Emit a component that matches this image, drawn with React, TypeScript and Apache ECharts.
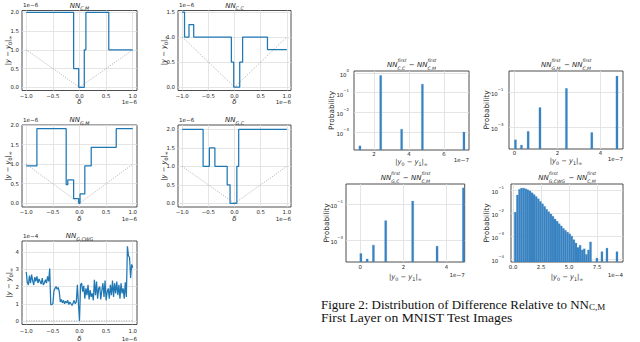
import { useEffect, useRef } from 'react';
import * as echarts from 'echarts';

// ---------------- data ----------------
// Left column: |y - y0|_inf (x1e-6, last panel x1e-4) against delta (x1e-6)
const deltaCM = [-1, -0.11, -0.11, -0.015, -0.015, 0.09, 0.09, 0.12, 0.12, 0.55, 0.55, 1];
const distCM = [2, 2, 0.5, 0.5, 0, 0, 1, 1, 2, 2, 1, 1];

const deltaCC = [-1, -0.955, -0.955, -0.87, -0.87, -0.78, -0.78, -0.06, -0.06, -0.015, -0.015, 0.1, 0.1, 0.155, 0.155, 0.63, 0.63, 1];
const distCC = [1.5, 1.5, 1, 1, 1.25, 1.25, 1, 1, 0.5, 0.5, 0, 0, 0.5, 0.5, 1, 1, 0.75, 0.75];

const deltaGM = [-1, -0.8, -0.8, -0.25, -0.25, -0.22, -0.22, -0.11, -0.11, -0.015, -0.015, 0.01, 0.01, 0.1, 0.1, 0.22, 0.22, 0.69, 0.69, 1];
const distGM = [0.954, 0.954, 1.907, 1.907, 0.477, 0.477, 0.596, 0.596, 0.119, 0.119, 0, 0, 0.238, 0.238, 0.954, 0.954, 1.43, 1.43, 1.907, 1.907];

const deltaGC = [-1, -0.6, -0.6, -0.48, -0.48, -0.375, -0.375, -0.14, -0.14, -0.085, -0.085, 0.045, 0.045, 0.08, 0.08, 1];
const distGC = [2, 2, 1, 1, 1.5, 1.5, 1, 1, 0.5, 0.5, 0, 0, 1, 1, 2, 2];

const deltaCWG = [
  -1, -0.98, -0.96, -0.94, -0.92, -0.9, -0.88, -0.86, -0.84, -0.82, -0.8, -0.78, -0.76, -0.74, -0.72, -0.7,
  -0.68, -0.66, -0.64, -0.62, -0.6, -0.58, -0.56, -0.54, -0.52, -0.5, -0.48, -0.46, -0.44, -0.42, -0.4,
  -0.38, -0.36, -0.34, -0.32, -0.3, -0.28, -0.26, -0.24, -0.22, -0.2, -0.18, -0.16, -0.14, -0.12, -0.1,
  -0.08, -0.06, -0.04, -0.02, 0, 0.02, 0.04, 0.06, 0.08, 0.1, 0.12, 0.14, 0.16, 0.18, 0.2, 0.22, 0.24,
  0.26, 0.28, 0.3, 0.32, 0.34, 0.36, 0.38, 0.4, 0.42, 0.44, 0.46, 0.48, 0.5, 0.52, 0.54, 0.56, 0.58, 0.6,
  0.62, 0.64, 0.66, 0.68, 0.7, 0.72, 0.74, 0.76, 0.78, 0.8, 0.82, 0.84, 0.86, 0.88, 0.9, 0.92, 0.94, 0.96,
  0.98, 1,
];
const distCWG = [
  2.85, 2.25, 2.1, 2.65, 2.2, 2.7, 2.35, 2.1, 2.55, 2.3, 2.6, 2.2, 2.45, 2.3, 2.15, 2.5,
  2.1, 2.2, 2.4, 2.2, 2.6, 2.3, 3.05, 0.95, 0.95, 1.0, 1.75, 1.9, 2.0, 1.85, 1.95,
  1.7, 1.1, 1.25, 1.05, 1.2, 1.0, 1.15, 1.05, 1.2, 0.95, 1.1, 1.0, 0.9, 1.05, 1.2,
  1.0, 1.1, 2.1, 1.0, 0.0, 2.1, 2.2, 1.7, 2.05, 1.3, 1.9, 1.5, 2.1, 1.25, 1.8, 1.4, 1.6,
  1.2, 2.4, 1.5, 2.3, 1.3, 1.9, 2.0, 1.25, 1.8, 2.2, 1.4, 2.35, 1.2, 1.7, 1.9, 1.3, 2.1, 1.5,
  2.35, 1.4, 2.2, 1.6, 2.3, 1.5, 2.1, 1.3, 2.2, 1.6, 1.9, 1.3, 2.25, 1.4, 4.35, 3.8, 3.7, 2.5,
  3.3, 3.1,
];

// reference |delta| (dotted)
const refDelta = [-1, 0, 1];
const refDist = [1, 0, 1];
const refDistCWG = [0.01, 0, 0.01];

// Right column: probability histograms of |y0 - y1|_inf
const diffCC = [1.19, 2.38, 3.58, 4.77, 7.15]; // x1e-7
const probCC = [2e-4, 0.75, 1.4e-3, 0.27, 1.0e-3];
const diffGM = [0.05, 0.33, 0.64, 1.19, 2.42, 3.6, 4.77]; // x1e-7
const probGM = [2e-4, 1e-4, 6e-4, 1.35e-2, 0.165, 5.2e-4, 0.82];
const diffGC = [0.03, 0.32, 0.61, 1.18, 2.43, 3.56, 4.78]; // x1e-7
const probGC = [1.9e-4, 9.5e-5, 5.5e-4, 1.23e-2, 0.148, 4.8e-4, 0.79];
const diffCWG = [
  0.2, 0.39, 0.58, 0.76, 0.95, 1.14, 1.32, 1.51, 1.7, 1.88, 2.07, 2.26, 2.44, 2.63, 2.82, 3.0, 3.19,
  3.38, 3.56, 3.75, 3.94, 4.12, 4.31, 4.5, 4.68, 4.87, 5.06, 5.24, 5.43, 5.62, 5.8, 5.99, 6.18, 6.36,
  6.55, 6.74, 6.92, 7.49, 7.94, 8.39, 9.28,
]; // x1e-4
const probCWG = [
  0.0112, 0.063, 0.112, 0.126, 0.126, 0.117, 0.107, 0.095, 0.079, 0.066, 0.054, 0.043, 0.033, 0.026,
  0.02, 0.015, 0.0117, 0.0093, 0.0074, 0.0056, 0.0045, 0.0035, 0.0028, 0.0022, 0.0018, 0.0015, 0.00126,
  0.001, 0.0007, 0.0005, 0.00032, 0.0004, 0.00025, 0.00028, 0.00016, 0.00025, 0.00056, 0.00011, 0.00021,
  0.0003, 0.00021,
];

// tick values
const deltaTicks = [-1, -0.5, 0, 0.5, 1];
const distTicks2 = [0, 0.5, 1, 1.5, 2];
const distTicks15 = [0, 0.5, 1, 1.5];
const distTicksCWG = [0, 1, 2, 3, 4];
const diffTicksCC = [2, 4, 6];
const diffTicks = [0, 2, 4];
const diffTicksCWG = [0, 2.5, 5, 7.5];
const logTicksCC = [-3, -2, -1, 0];
const logTicksOdd = [-3, -1];
const logTicksCWG = [-4, -3, -2, -1];

// ---------------- style ----------------
const FONT = 'DejaVu Sans';
const INK = '#262626';
const BORDER = '#3a3a3a';
const GRIDC = '#dedede';
const BLUE = '#1f77b4';
const BAR = '#3a83c2';
const MINUS = '\u2212';
const TICK = 5.4;

const fmt = (v: number, d: number) => (v < 0 ? MINUS : '') + Math.abs(v).toFixed(d);
const pow10 = (v: number) => '{b|10}{e|' + (v < 0 ? MINUS : '') + Math.abs(Math.round(v)) + '}';

const tickText = { fontSize: TICK, color: INK, fontFamily: FONT };
const powRich = {
  b: { fontSize: TICK, color: INK, fontFamily: FONT, lineHeight: 9, verticalAlign: 'bottom' },
  e: { fontSize: 3.9, color: INK, fontFamily: FONT, lineHeight: 5, verticalAlign: 'top' },
};
const mathRich = {
  r: { fontSize: 6.8, color: INK, fontFamily: FONT, lineHeight: 10 },
  i: { fontSize: 6.8, color: INK, fontFamily: FONT, fontStyle: 'italic', lineHeight: 10 },
  s: { fontSize: 4.8, color: INK, fontFamily: FONT, lineHeight: 6, verticalAlign: 'bottom' },
};

type Box = { left: number; top: number; width: number; height: number };

const OFF6 = '1e' + MINUS + '6';
const linePanels = [
  { d: deltaCM, v: distCM, rv: refDist, box: { left: 22, top: 10.5, width: 115, height: 80 }, y: [-0.085, 2.05], yt: distTicks2, dec: 1, sub: 'C,M', off: OFF6, lm: 2.5, ng: 8 },
  { d: deltaCC, v: distCC, rv: refDist, box: { left: 178, top: 10.5, width: 113, height: 80 }, y: [-0.068, 1.53], yt: distTicks15, dec: 1, sub: 'C,C', off: OFF6, lm: 2.5, ng: 8 },
  { d: deltaGM, v: distGM, rv: refDist, box: { left: 22, top: 125, width: 115, height: 82 }, y: [-0.095, 2.002], yt: distTicks2, dec: 1, sub: 'G,M', off: OFF6, lm: 2.5, ng: 8 },
  { d: deltaGC, v: distGC, rv: refDist, box: { left: 178, top: 125, width: 113, height: 82 }, y: [-0.1, 2.12], yt: distTicks2, dec: 1, sub: 'G,C', off: OFF6, lm: 2.5, ng: 8 },
  { d: deltaCWG, v: distCWG, rv: refDistCWG, box: { left: 22, top: 241, width: 115, height: 83.5 }, y: [-0.21, 4.66], yt: distTicksCWG, dec: 0, sub: 'G,CWG', off: '1e' + MINUS + '4', lm: 4, ng: 11 },
];

const histPanels = [
  { x: diffCC, p: probCC, box: { left: 354, top: 71, width: 115, height: 79 }, xr: [0.85, 7.44], yr: [-3.91, 0.1], xt: diffTicksCC, xd: 0, yt: logTicksCC, bw: 0.12, a: 'C,C', off: '1e' + MINUS + '7', yg: 19, ym: 5, lm: 1.5, ng: 6.5 },
  { x: diffGM, p: probGM, box: { left: 509, top: 71, width: 114, height: 78 }, xr: [-0.25, 5.05], yr: [-4.22, 0.2], xt: diffTicks, xd: 0, yt: logTicksOdd, bw: 0.1, a: 'G,M', off: '1e' + MINUS + '7', yg: 19.5, ym: 5.5, lm: 1.5, ng: 6.5 },
  { x: diffGC, p: probGC, box: { left: 346, top: 184, width: 118.7, height: 78 }, xr: [-0.66, 4.84], yr: [-4.19, 0.11], xt: diffTicks, xd: 0, yt: logTicksOdd, bw: 0.1, a: 'G,C', off: '1e' + MINUS + '7', yg: 16, ym: 3, lm: 2.5, ng: 10 },
  { x: diffCWG, p: probCWG, box: { left: 511, top: 184, width: 112, height: 78 }, xr: [-0.18, 9.82], yr: [-4.13, -0.72], xt: diffTicksCWG, xd: 1, yt: logTicksCWG, bw: 0.186, a: 'G,CWG', off: '1e' + MINUS + '4', yg: 21.5, ym: 7, lm: 2.5, ng: 10 },
];

function gridOf(b: Box) {
  return {
    ...b,
    show: true,
    borderColor: BORDER,
    borderWidth: 0.9,
    backgroundColor: 'transparent',
    containLabel: false,
    outerBoundsMode: 'none',
  };
}

function valueAxis(i: number, min: number, max: number, ticks: number[], formatter: any, margin: number, extra: any) {
  return {
    type: 'value',
    gridIndex: i,
    min,
    max,
    axisLine: { show: false, onZero: false },
    axisTick: { show: false, customValues: ticks },
    axisLabel: { ...tickText, margin, customValues: ticks, formatter },
    splitLine: { show: true, lineStyle: { color: GRIDC, width: 0.8 } },
    nameMoveOverlap: false,
    ...extra,
  };
}

function buildOption() {
  const grid: any[] = [];
  const xAxis: any[] = [];
  const yAxis: any[] = [];
  const series: any[] = [];
  const graphic: any[] = [];

  const txt = (x: number, y: number, text: string, align: string, rich?: any, size = 5.6) => ({
    type: 'text',
    x,
    y,
    silent: true,
    style: { text, fontSize: size, fontFamily: FONT, fill: INK, align, verticalAlign: 'middle', rich },
  });

  const titleRich = {
    i: { fontSize: 7, fontFamily: FONT, fontStyle: 'italic', fill: INK, lineHeight: 13, verticalAlign: 'middle', align: 'left' },
    r: { fontSize: 7, fontFamily: FONT, fill: INK, lineHeight: 13, verticalAlign: 'middle', align: 'left', padding: [0, 0, 0, 3.5] },
    s: { fontSize: 4.6, fontFamily: FONT, fontStyle: 'italic', fill: INK, lineHeight: 5, verticalAlign: 'bottom', align: 'left' },
    p: { fontSize: 4.6, fontFamily: FONT, fontStyle: 'italic', fill: INK, lineHeight: 5, verticalAlign: 'top', align: 'left', width: 0.01 },
  };
  const lineTitleRich = {
    i: { fontSize: 7, fontFamily: FONT, fontStyle: 'italic', fill: INK, lineHeight: 11, verticalAlign: 'middle', align: 'left' },
    s: { fontSize: 4.8, fontFamily: FONT, fontStyle: 'italic', fill: INK, lineHeight: 6, verticalAlign: 'bottom', align: 'left' },
  };

  linePanels.forEach((pn, k) => {
    const i = grid.length;
    grid.push(gridOf(pn.box));
    xAxis.push(
      valueAxis(i, -1.08, 1.08, deltaTicks, (v: number) => fmt(v, 1), pn.lm, {
        name: '\u03b4',
        nameLocation: 'middle',
        nameGap: pn.ng,
        nameTextStyle: { fontSize: 7, fontStyle: 'italic', color: INK, fontFamily: FONT },
      }),
    );
    yAxis.push(
      valueAxis(i, pn.y[0], pn.y[1], pn.yt, (v: number) => fmt(v, pn.dec), 3, {
        name: '{r||}{i|y}{r| ' + MINUS + ' }{i|y}{s|0}{r||}{s|\u221e}',
        nameLocation: 'middle',
        nameGap: k === 4 ? 8 : 9,
        nameRotate: 90,
        nameTextStyle: { rich: mathRich },
      }),
    );
    series.push({
      type: 'line',
      xAxisIndex: i,
      yAxisIndex: i,
      data: refDelta.map((d, j) => [d, pn.rv[j]]),
      showSymbol: false,
      symbol: 'none',
      silent: true,
      lineStyle: { color: '#9a9a9a', width: 0.8, type: [1, 1.5] },
      z: 2,
    });
    series.push({
      type: 'line',
      xAxisIndex: i,
      yAxisIndex: i,
      data: pn.d.map((d, j) => [d, pn.v[j]]),
      showSymbol: false,
      symbol: 'none',
      silent: true,
      lineStyle: { color: BLUE, width: 1.25 },
      z: 3,
    });
    const b = pn.box;
    const cx = b.left + b.width / 2;
    graphic.push(txt(cx, b.top - 5, '{i|NN}{s|' + pn.sub + '}', 'center', lineTitleRich));
    graphic.push(txt(b.left + 1, b.top - 5.5, pn.off, 'left'));
    graphic.push(txt(b.left + b.width, b.top + b.height + pn.ng + 3.5, OFF6, 'right'));
  });

  histPanels.forEach((pn) => {
    const i = grid.length;
    grid.push(gridOf(pn.box));
    xAxis.push(
      valueAxis(i, pn.xr[0], pn.xr[1], pn.xt, (v: number) => fmt(v, pn.xd), pn.lm, {
        name: '{r||}{i|y}{s|0}{r| ' + MINUS + ' }{i|y}{s|1}{r||}{s|\u221e}',
        nameLocation: 'middle',
        nameGap: pn.ng,
        nameTextStyle: { rich: mathRich },
      }),
    );
    yAxis.push(
      valueAxis(i, pn.yr[0], pn.yr[1], pn.yt, pow10, pn.ym, {
        axisLabel: { ...tickText, margin: pn.ym, customValues: pn.yt, formatter: pow10, rich: powRich },
        name: 'Probability',
        nameLocation: 'middle',
        nameGap: pn.yg,
        nameRotate: 90,
        nameTextStyle: { fontSize: 7.4, color: INK, fontFamily: FONT },
      }),
    );
    const bw = pn.bw;
    series.push({
      type: 'custom',
      xAxisIndex: i,
      yAxisIndex: i,
      silent: true,
      clip: true,
      data: pn.x.map((x, j) => [x, Math.log10(pn.p[j])]),
      renderItem: (params: any, api: any) => {
        const top = api.coord([api.value(0), api.value(1)]);
        const cs = params.coordSys;
        const base = cs.y + cs.height;
        const w = api.size([bw, 0])[0];
        return {
          type: 'rect',
          shape: { x: top[0] - w / 2, y: top[1], width: w, height: base - top[1] },
          style: { fill: BAR, stroke: BAR, lineWidth: 0.2 },
        };
      },
      z: 3,
    });
    const b = pn.box;
    const cx = b.left + b.width / 2;
    graphic.push(
      txt(cx, b.top - 6.5, '{i|NN}{p|first}{s|' + pn.a + '}{r|' + MINUS + ' }{i|NN}{p|first}{s|C,M}', 'center', titleRich),
    );
    graphic.push(txt(b.left + b.width, b.top + b.height + pn.ng + 3, pn.off, 'right'));
  });

  // caption
  const capRich = {
    c: { fontSize: 13, fontFamily: 'Liberation Serif', fill: '#111', lineHeight: 15, verticalAlign: 'middle' },
    cs: { fontSize: 9, fontFamily: 'Liberation Serif', fill: '#111', lineHeight: 10, verticalAlign: 'bottom' },
  };
  graphic.push({
    type: 'text',
    x: 321,
    y: 304,
    silent: true,
    style: {
      text: '{c|Figure 2: Distribution of Difference Relative to NN}{cs|C,M}',
      rich: capRich,
      align: 'left',
      verticalAlign: 'middle',
    },
  });
  graphic.push({
    type: 'text',
    x: 321,
    y: 318,
    scaleX: 1.05,
    silent: true,
    style: {
      text: 'First Layer on MNIST Test Images',
      fontSize: 13,
      fontFamily: 'Liberation Serif',
      fill: '#111',
      align: 'left',
      verticalAlign: 'middle',
    },
  });

  return {
    animation: false,
    backgroundColor: '#ffffff',
    grid,
    xAxis,
    yAxis,
    series,
    graphic,
  };
}

export default function App() {
  const ref = useRef<HTMLDivElement>(null);
  useEffect(() => {
    const el = ref.current;
    if (!el) return;
    const chart = echarts.init(el, undefined, { renderer: 'svg' });
    chart.setOption(buildOption() as any);
    return () => chart.dispose();
  }, []);
  return (
    <div
      ref={ref}
      style={{ position: 'fixed', left: 0, top: 0, width: 640, height: 342, background: '#fff' }}
    />
  );
}
